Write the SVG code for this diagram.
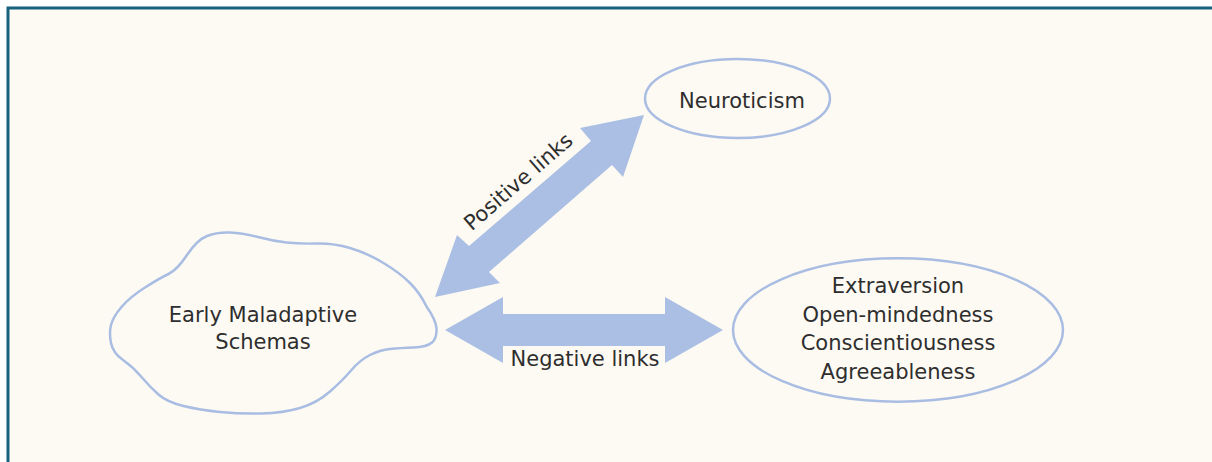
<svg xmlns="http://www.w3.org/2000/svg" width="1212" height="462" viewBox="0 0 1212 462">
  <style>
    .lbl { font-family: "DejaVu Sans", "Liberation Sans", sans-serif; font-size: 21px; fill: #2e2e2e; text-anchor: middle; }
    .node { fill: none; stroke: #a9bde3; stroke-width: 2.5; }
    .arrow { fill: #aabfe3; stroke: none; }
  </style>
  <rect x="0" y="0" width="1212" height="462" fill="#ffffff"/>
  <rect x="8" y="8" width="1220" height="470" fill="#fdfaf3" stroke="#17627f" stroke-width="3"/>

  <g id="connectors">
    <g id="positive-links">
      <polygon class="arrow" points="644,115 623,177 612,165 489,272 500,283 435,297 457,235 469,246 591,141 580,128"/>
      <text class="lbl" transform="translate(523,187) rotate(-41)" x="0" y="0">Positive links</text>
    </g>
    <g id="negative-links">
      <polygon class="arrow" points="445,330 503,297 503,314 665,314 665,297 723,330 665,363 665,346 503,346 503,363"/>
      <rect x="506" y="346" width="158" height="26" fill="#fdfaf3"/>
      <text class="lbl" x="585" y="366">Negative links</text>
    </g>
  </g>

  <g id="node-schemas">
    <path class="node" d="M168.5,274 Q177,270 187,255 Q197,240 207,236 Q217,232 230,232.5 Q243,233 258,237 Q273,241 286.5,242.5 Q300,244 316.5,243.5 Q333,243 350,248 Q367,253 383.5,263 Q400,273 410,283 Q420,293 426.5,306.5 Q436,320 436.5,328.5 Q437,338 432,342.5 Q427,347 413.5,347.5 Q400,348 390,349 Q380,350 370,355 Q360,360 351.5,370 Q343,380 330,391.5 Q317,403 300,408 Q283,413 261.5,413.5 Q240,414 220,412 Q200,410 183.5,406 Q167,402 158.5,394.5 Q150,387 141.5,377 Q133,367 123,360 Q113,353 111,343 Q109,333 111,325 Q113,317 121.5,307 Q130,297 145,287.5 Q160,278 168.5,274 Z"/>
    <text class="lbl" x="263" y="322">Early Maladaptive</text>
    <text class="lbl" x="263" y="349">Schemas</text>
  </g>

  <g id="node-neuroticism">
    <ellipse class="node" cx="737.5" cy="98.5" rx="92.5" ry="39.5"/>
    <text class="lbl" x="742" y="108">Neuroticism</text>
  </g>

  <g id="node-traits">
    <ellipse class="node" cx="898" cy="330" rx="165" ry="71.7"/>
    <text class="lbl" x="898" y="293">Extraversion</text>
    <text class="lbl" x="898" y="322">Open-mindedness</text>
    <text class="lbl" x="898" y="350">Conscientiousness</text>
    <text class="lbl" x="898" y="379">Agreeableness</text>
  </g>
</svg>
